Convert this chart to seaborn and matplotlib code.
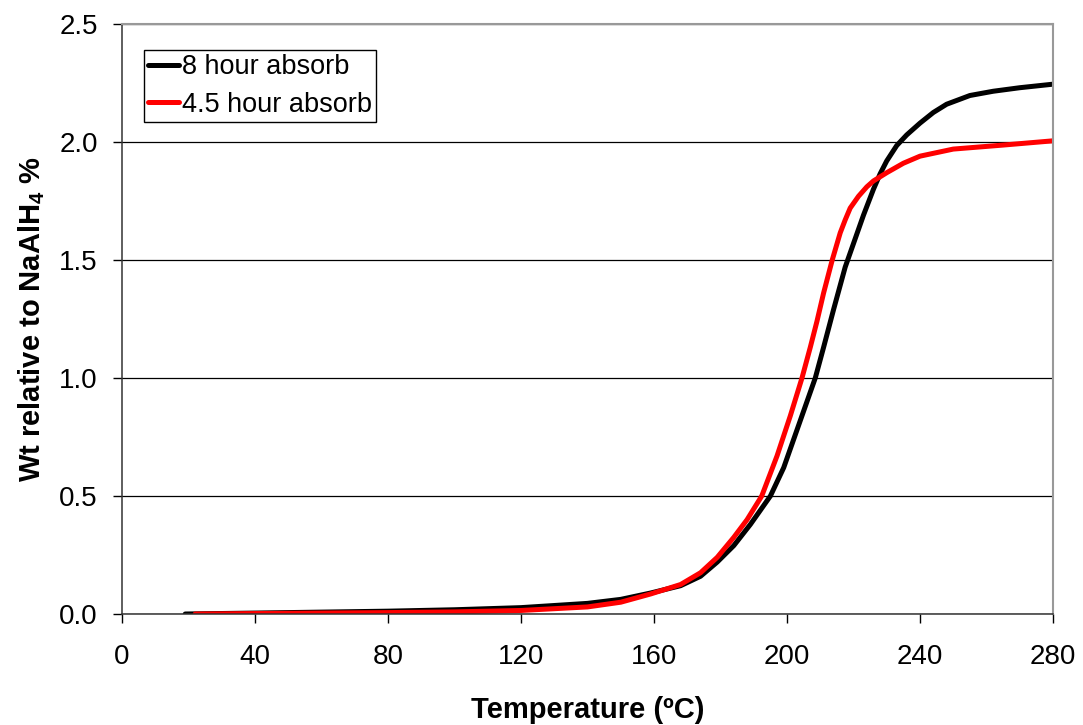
import pandas as pd
import numpy as np
import matplotlib
matplotlib.use('Agg')
import matplotlib.pyplot as plt
import seaborn as sns

# 8 hour absorb (black)
temp_8h = [19, 40, 60, 80, 100, 120, 140, 150, 159, 168, 174, 179, 184, 189, 192, 195, 199, 203,
           206, 208.5, 211, 214, 217.5, 220, 223, 226, 228, 230, 233, 236, 240, 244, 248, 255,
           262, 270, 280]
wt_8h = [0.0, 0.004, 0.008, 0.012, 0.018, 0.027, 0.045, 0.062, 0.089, 0.12, 0.16, 0.22, 0.29,
         0.38, 0.44, 0.5, 0.62, 0.78, 0.9, 1.0, 1.13, 1.29, 1.47, 1.57, 1.69, 1.80, 1.865, 1.92,
         1.985, 2.03, 2.08, 2.125, 2.16, 2.197, 2.215, 2.23, 2.245]

# 4.5 hour absorb (red)
temp_45h = [22, 40, 60, 80, 100, 120, 140, 150, 159, 168, 174, 179, 184, 188, 192.4, 197, 201,
            204.5, 207, 209, 211, 213.6, 216, 217.5, 219, 221.5, 224, 226, 230, 235, 240, 250,
            265, 280]
wt_45h = [0.0, 0.002, 0.004, 0.006, 0.009, 0.015, 0.03, 0.05, 0.085, 0.125, 0.175, 0.24, 0.325,
          0.4, 0.5, 0.67, 0.84, 1.0, 1.13, 1.24, 1.36, 1.5, 1.615, 1.67, 1.72, 1.77, 1.81,
          1.835, 1.87, 1.91, 1.94, 1.97, 1.987, 2.005]

labels = ['8 hour absorb', '4.5 hour absorb']
colors = ['black', '#ff0000']

df = pd.concat([
    pd.DataFrame({'Temp': temp_8h, 'Wt': wt_8h, 'Series': labels[0]}),
    pd.DataFrame({'Temp': temp_45h, 'Wt': wt_45h, 'Series': labels[1]}),
])

sns.set_style('ticks')
plt.rcParams['font.family'] = ['Liberation Sans', 'DejaVu Sans']
plt.rcParams['text.color'] = 'black'
plt.rcParams['axes.labelcolor'] = 'black'
plt.rcParams['mathtext.fontset'] = 'custom'
plt.rcParams['mathtext.rm'] = 'Liberation Sans'
plt.rcParams['mathtext.bf'] = 'Liberation Sans:bold'

fig = plt.figure(figsize=(10.83, 7.25), dpi=100)
ax = fig.add_axes([0.1127, 0.1531, 0.8596, 0.8138])

sns.lineplot(data=df, x='Temp', y='Wt', hue='Series', hue_order=labels,
             palette=colors, linewidth=3.6, sort=False, estimator=None, ax=ax)

ax.set_xlim(0, 280)
ax.set_ylim(0, 2.5)
ax.set_xticks(np.arange(0, 281, 40))
ax.set_yticks(np.arange(0, 2.51, 0.5))
ax.set_yticklabels([f'{v:.1f}' for v in np.arange(0, 2.51, 0.5)])
ax.tick_params(axis='both', direction='out', length=6.5, width=1, labelsize=20, colors='black')
ax.tick_params(axis='x', pad=15)
ax.tick_params(axis='y', pad=11)
ax.yaxis.grid(True, color='black', linewidth=0.9)
ax.xaxis.grid(False)
ax.set_axisbelow(True)

for side in ['left', 'bottom']:
    ax.spines[side].set_color('#333333')
    ax.spines[side].set_linewidth(1.1)
for side in ['top', 'right']:
    ax.spines[side].set_visible(True)
    ax.spines[side].set_color('#999999')
    ax.spines[side].set_linewidth(1.5)

ax.set_xlabel('Temperature (ºC)', fontsize=21, fontweight='bold', labelpad=19, color='black')
ax.set_ylabel(r'Wt relative to NaAlH$\mathbf{_4}$ %', fontsize=21, fontweight='bold',
              labelpad=9, color='black')

leg = ax.legend(loc='upper left', bbox_to_anchor=(0.0236, 0.956), borderaxespad=0,
                fontsize=19.5, frameon=True, fancybox=False, edgecolor='black', framealpha=1,
                handlelength=1.15, handletextpad=0.1, borderpad=0.15, labelspacing=0.43,
                title=None, labelcolor='black')
leg.get_frame().set_linewidth(1.0)
for line in leg.get_lines():
    line.set_linewidth(3.6)

plt.savefig('out.png', dpi=100)
plt.close()
